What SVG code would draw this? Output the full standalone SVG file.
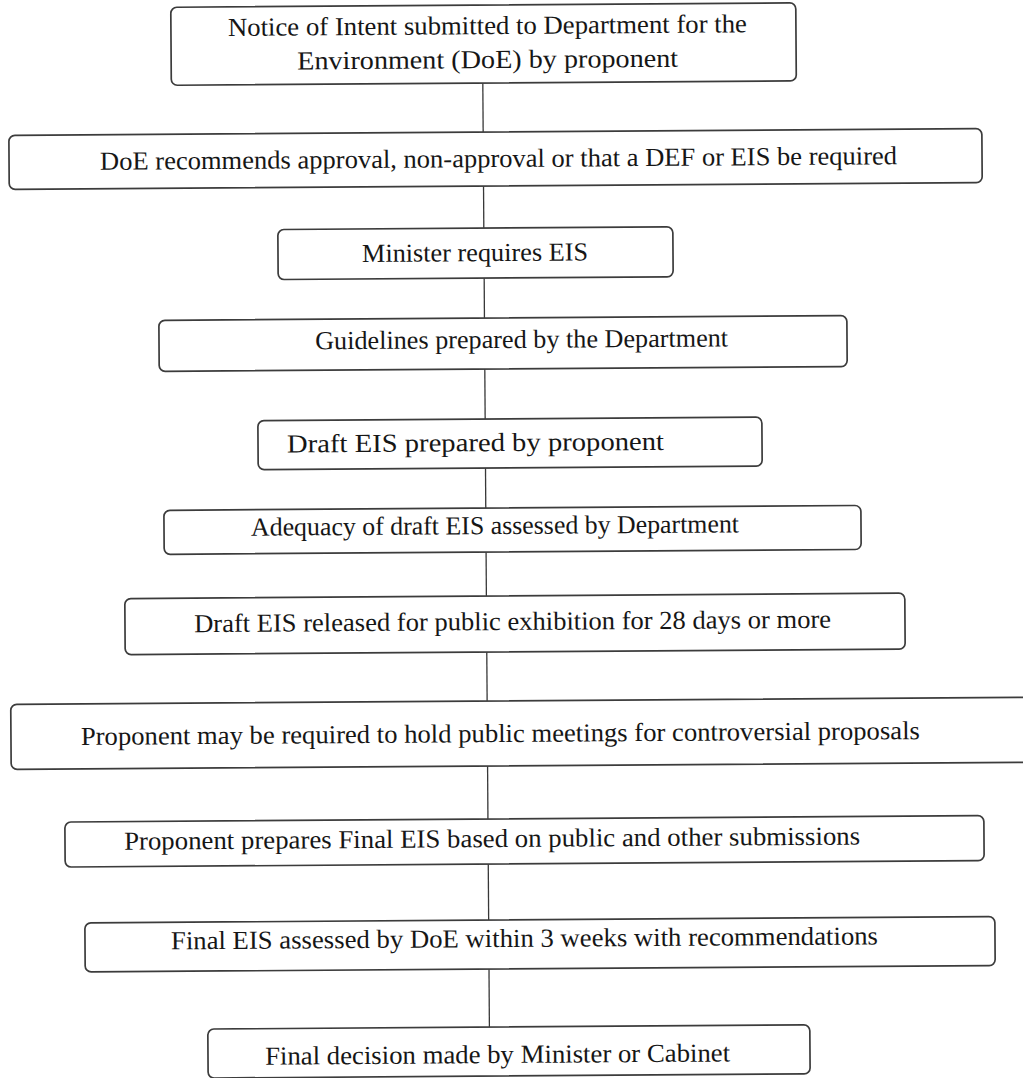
<svg xmlns="http://www.w3.org/2000/svg" width="1023" height="1078" viewBox="0 0 1023 1078">
  <style>
    .box { fill: #ffffff; stroke: #3c3c3c; stroke-width: 1.7; }
    .lbl { font-family: "Liberation Serif", "Times New Roman", serif; font-size: 26px; fill: #161616; text-anchor: middle; }
    .link { stroke: #383838; stroke-width: 1.3; fill: none; }
  </style>
  <rect width="1023" height="1078" fill="#ffffff"/>

  <!-- whole flowchart sits on a very slight counter-clockwise tilt -->
  <g transform="rotate(-0.4 500 540)">

    <!-- connectors between consecutive steps -->
    <g id="connectors">
      <line class="link" x1="486" y1="83" x2="486" y2="132"/>
      <line class="link" x1="486" y1="186" x2="486" y2="228"/>
      <line class="link" x1="486" y1="278" x2="486" y2="318"/>
      <line class="link" x1="486" y1="369" x2="486" y2="419"/>
      <line class="link" x1="486" y1="468" x2="486" y2="508"/>
      <line class="link" x1="486" y1="552" x2="486" y2="596"/>
      <line class="link" x1="486" y1="652" x2="486" y2="701"/>
      <line class="link" x1="486" y1="766" x2="486" y2="819"/>
      <line class="link" x1="486" y1="864" x2="486" y2="920"/>
      <line class="link" x1="486" y1="969" x2="486" y2="1027"/>
    </g>

    <g id="step-notice">
      <rect class="box" x="174.5" y="5" width="625" height="78" rx="6"/>
      <text class="lbl" x="491" y="34" textLength="519" lengthAdjust="spacingAndGlyphs">Notice of Intent submitted to Department for the</text>
      <text class="lbl" x="491" y="68" textLength="381" lengthAdjust="spacingAndGlyphs">Environment (DoE) by proponent</text>
    </g>

    <g id="step-recommend">
      <rect class="box" x="11.7" y="132" width="973" height="54" rx="6"/>
      <text class="lbl" x="501.2" y="167" textLength="797" lengthAdjust="spacingAndGlyphs">DoE recommends approval, non-approval or that a DEF or EIS be required</text>
    </g>

    <g id="step-minister">
      <rect class="box" x="280" y="228" width="395" height="50" rx="6"/>
      <text class="lbl" x="477" y="261" textLength="226" lengthAdjust="spacingAndGlyphs">Minister requires EIS</text>
    </g>

    <g id="step-guidelines">
      <rect class="box" x="160.4" y="318" width="688" height="51" rx="6"/>
      <text class="lbl" x="523" y="348" textLength="413" lengthAdjust="spacingAndGlyphs">Guidelines prepared by the Department</text>
    </g>

    <g id="step-draft">
      <rect class="box" x="258.7" y="419" width="504" height="49" rx="6"/>
      <text class="lbl" x="476.2" y="451" textLength="377" lengthAdjust="spacingAndGlyphs">Draft EIS prepared by proponent</text>
    </g>

    <g id="step-adequacy">
      <rect class="box" x="164.1" y="508" width="697" height="44" rx="6"/>
      <text class="lbl" x="495.1" y="534" textLength="488" lengthAdjust="spacingAndGlyphs">Adequacy of draft EIS assessed by Department</text>
    </g>

    <g id="step-exhibition">
      <rect class="box" x="124.4" y="596" width="780" height="56" rx="6"/>
      <text class="lbl" x="512" y="630" textLength="637" lengthAdjust="spacingAndGlyphs">Draft EIS released for public exhibition for 28 days or more</text>
    </g>

    <g id="step-meetings">
      <rect class="box" x="9.6" y="701" width="1040" height="65" rx="6"/>
      <text class="lbl" x="499" y="742" textLength="839" lengthAdjust="spacingAndGlyphs">Proponent may be required to hold public meetings for controversial proposals</text>
    </g>

    <g id="step-final-eis">
      <rect class="box" x="62.9" y="819" width="919" height="45" rx="6"/>
      <text class="lbl" x="490" y="847" textLength="736" lengthAdjust="spacingAndGlyphs">Proponent prepares Final EIS based on public and other submissions</text>
    </g>

    <g id="step-assessed">
      <rect class="box" x="82.2" y="920" width="910" height="49" rx="6"/>
      <text class="lbl" x="521.7" y="947" textLength="707" lengthAdjust="spacingAndGlyphs">Final EIS assessed by DoE within 3 weeks with recommendations</text>
    </g>

    <g id="step-decision">
      <rect class="box" x="204.4" y="1027" width="602" height="49" rx="6"/>
      <text class="lbl" x="494" y="1063" textLength="465" lengthAdjust="spacingAndGlyphs">Final decision made by Minister or Cabinet</text>
    </g>
  </g>
</svg>
